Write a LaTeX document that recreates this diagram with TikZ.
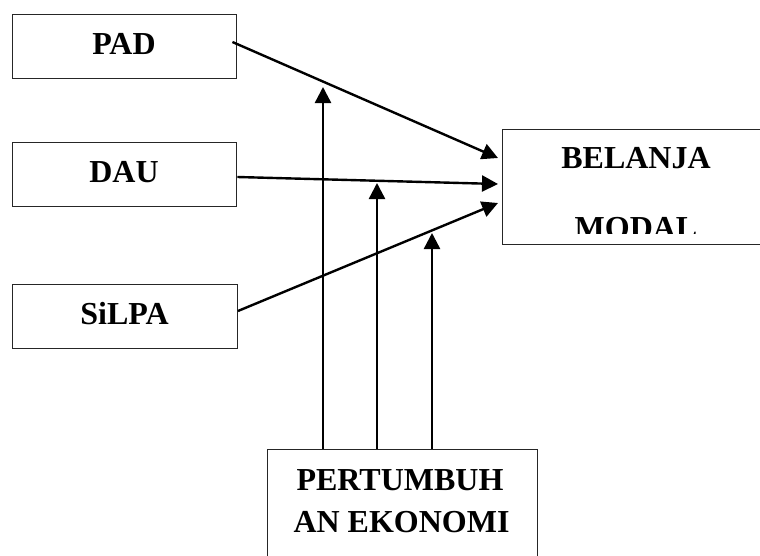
\documentclass[tikz,border=0pt]{standalone}
\usepackage{fontspec}
\setmainfont{Liberation Serif}
\usetikzlibrary{arrows.meta}
\begin{document}
\begin{tikzpicture}[x=1pt,y=-1pt,
  box/.style={draw=black!85,line width=0.9pt,inner sep=0pt},
  lbl/.style={font=\fontsize{32}{38}\selectfont\bfseries,inner sep=0pt},
  txtbox/.style={box,lbl,text height=21pt,text depth=4pt,minimum width=224pt,minimum height=64pt},
  arr/.style={line width=2.4pt,-{Triangle[length=16pt,width=16pt]}}]
\clip (0,0) rectangle (760,555);
\fill[white] (0,0) rectangle (760,555);
% left boxes
\node[txtbox] (pad) at (124,46) {PAD};
\node[txtbox] (dau) at (124,174) {DAU};
\node[txtbox,minimum width=225pt] (silpa) at (124.5,316) {SiLPA};
% right box (runs past the right edge)
\node[box,minimum width=268pt,minimum height=115pt] (bm) at (636,186.5) {};
\node[lbl,anchor=base] (bmt1) at (636,168) {BELANJA};
\begin{scope}
  \clip (502,129) rectangle (770,233);
  \node[lbl,anchor=base] (bmt2) at (636,238) {MODAL};
\end{scope}
% bottom box (runs past the bottom edge)
\node[box,minimum width=270pt,minimum height=116pt] (pe) at (402,507) {};
\node[lbl,anchor=base] (pet1) at (400,490) {PERTUMBUH};
\node[lbl,anchor=base] (pet2) at (401.5,532) {AN EKONOMI};
% arrow tips
\coordinate (t1) at (498,158);
\coordinate (t2) at (498,184);
\coordinate (t3) at (498,203);
\coordinate (v1) at (323,87);
\coordinate (v2) at (377,183);
\coordinate (v3) at (432,233);
% connectors
\draw[arr] ([shift={(-4,-4)}]pad.east) -- (t1);
\draw[arr] ([shift={(1,3)}]dau.east) -- (t2);
\draw[arr] ([shift={(0.5,-5)}]silpa.east) -- (t3);
\draw[arr] (pe.north -| v1) -- (v1);
\draw[arr] (pe.north -| v2) -- (v2);
\draw[arr] (pe.north -| v3) -- (v3);
\end{tikzpicture}
\end{document}
